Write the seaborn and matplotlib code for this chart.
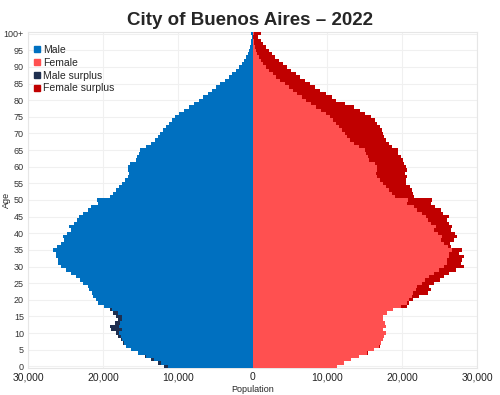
import numpy as np
import pandas as pd
import matplotlib
matplotlib.use("Agg")
import matplotlib.pyplot as plt
import seaborn as sns
from matplotlib.lines import Line2D

ages = list(range(0, 101))
male_k = [11.8, 12.6, 13.6, 14.4, 15.3, 16.2, 16.9, 17.3, 17.6, 18.0,
          18.3, 18.9, 19.0, 18.4, 18.0, 18.2, 18.6, 19.1, 19.8, 20.6,
          20.9, 21.3, 21.4, 21.8, 22.0, 22.6, 23.0, 23.6, 24.2, 24.9,
          25.6, 26.0, 26.0, 26.2, 26.3, 26.6, 26.1, 25.6, 25.2, 25.3,
          24.8, 24.3, 24.5, 23.9, 23.4, 23.2, 22.6, 22.0, 21.6, 20.6,
          20.8, 19.0, 18.7, 18.2, 17.8, 17.4, 17.0, 16.6, 16.5, 16.6,
          16.6, 16.4, 15.6, 15.4, 15.2, 15.0, 14.2, 13.6, 13.0, 12.6,
          12.3, 12.0, 11.6, 11.2, 10.8, 10.4, 9.8, 9.2, 8.5, 7.8,
          7.1, 6.6, 6.0, 5.4, 4.9, 4.3, 3.7, 3.2, 2.7, 2.2,
          1.8, 1.45, 1.1, 0.85, 0.6, 0.45, 0.32, 0.22, 0.15, 0.1,
          0.2]
female_k = [11.3, 12.2, 13.1, 14.2, 15.4, 16.3, 17.0, 17.2, 17.5, 17.6,
            17.8, 17.5, 17.9, 17.7, 17.4, 17.5, 18.0, 18.8, 20.6, 20.9,
            21.5, 22.2, 23.4, 23.8, 23.6, 24.2, 25.1, 25.6, 26.3, 27.2,
            28.2, 27.8, 28.0, 28.3, 27.6, 28.0, 26.5, 26.4, 26.9, 27.3,
            27.1, 26.5, 26.7, 26.2, 26.0, 26.3, 25.5, 25.2, 24.4, 23.8,
            24.0, 21.6, 21.4, 21.3, 21.0, 20.5, 20.5, 20.7, 20.4, 20.6,
            20.5, 20.3, 20.1, 19.8, 19.5, 19.4, 18.6, 18.2, 17.9, 17.6,
            17.5, 17.3, 17.0, 16.7, 16.4, 15.8, 15.0, 14.4, 13.6, 12.4,
            11.2, 10.6, 9.8, 9.0, 8.4, 7.7, 7.0, 6.4, 5.8, 5.2,
            4.6, 4.1, 3.6, 3.0, 2.6, 2.2, 1.8, 1.4, 1.1, 0.8,
            1.2]
yticks = list(range(0, 101, 5))
ytick_labels = [str(a) for a in range(0, 100, 5)] + ["100+"]
xticks = [-30000, -20000, -10000, 0, 10000, 20000, 30000]
xtick_labels = ["30,000", "20,000", "10,000", "0", "10,000", "20,000", "30,000"]

male = np.array(male_k) * 1000
female = np.array(female_k) * 1000
common = np.minimum(male, female)
df = pd.DataFrame({"age": ages, "male": -male, "female": female,
                   "male_common": -common, "female_common": common})

C_MALE = "#0070C0"
C_FEMALE = "#FF5050"
C_MSUR = "#1F2F4F"
C_FSUR = "#C00000"

sns.set_style("white")
plt.rcParams['font.family'] = ['Liberation Sans', 'DejaVu Sans']

fig = plt.figure(figsize=(5, 3.95), dpi=100)
ax = fig.add_axes([0.056, 1 - 368 / 395, 0.898, (368 - 32) / 395])

for col, c in [("male", C_MSUR), ("male_common", C_MALE),
               ("female", C_FSUR), ("female_common", C_FEMALE)]:
    sns.barplot(data=df, x=col, y="age", orient="y", native_scale=True,
                width=1.0, color=c, saturation=1, linewidth=0, ax=ax,
                errorbar=None, zorder=3)

ax.set_xlim(-30000, 30000)
ax.set_ylim(-0.5, 100.5)
ax.set_yticks(yticks)
ax.set_yticklabels(ytick_labels, fontsize=6.5, color="#333333")
ax.set_xticks(xticks)
ax.set_xticklabels(xtick_labels, fontsize=7.5, color="#222222")
ax.tick_params(axis="both", length=0, pad=3)
ax.set_ylabel("Age", fontsize=6.5)
ax.yaxis.set_label_coords(-0.039, 0.5)
ax.set_xlabel("Population", fontsize=6.5, labelpad=2)
for v in yticks:
    ax.axhline(v, color="#F0F0F0", lw=0.8, zorder=0)
for v in xticks:
    ax.axvline(v, color="#F0F0F0", lw=0.8, zorder=0)
for s in ax.spines.values():
    s.set_color("#E6E6E6")
    s.set_linewidth(0.8)

handles = [Line2D([], [], marker="s", ls="", color=c, markersize=4.5)
           for c in (C_MALE, C_FEMALE, C_MSUR, C_FSUR)]
ax.legend(handles, ["Male", "Female", "Male surplus", "Female surplus"],
          loc="upper left", bbox_to_anchor=(-0.012, 0.99), frameon=False,
          fontsize=7.5, handletextpad=0.1, labelspacing=0.28,
          handlelength=1.0, borderaxespad=0.5)

fig.text(0.5, 0.948, "City of Buenos Aires – 2022", ha="center", va="center",
         fontsize=13.5, fontweight="bold")

fig.savefig("out.png", dpi=100)
